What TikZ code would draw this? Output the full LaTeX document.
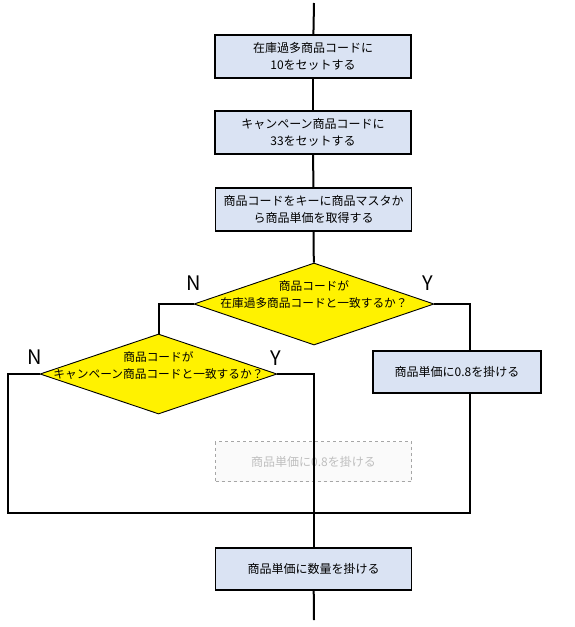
\documentclass[tikz,border=0pt]{standalone}
\usepackage{fontspec}
\setmainfont{Noto Sans CJK JP}
\usetikzlibrary{shapes.geometric}
\definecolor{procfill}{HTML}{DAE3F3}
\definecolor{ghostline}{HTML}{A6A6A6}
\definecolor{ghosttext}{HTML}{BFBFBF}

\begin{document}
\begin{tikzpicture}[x=1pt,y=-1pt,
  proc/.style={rectangle,draw=black,line width=1.3pt,fill=procfill,inner sep=0pt,
    minimum width=196pt,minimum height=43pt,align=center,font=\fontsize{12}{17}\selectfont},
  ghost/.style={proc,draw=ghostline,dashed,line width=1pt,fill=black!2,text=ghosttext,minimum height=40pt},
  decide/.style={diamond,draw=black,line width=0.9pt,fill=yellow,inner sep=0pt},
  dtext/.style={align=center,inner sep=0pt,font=\fontsize{11.7}{17}\selectfont},
  yn/.style={inner sep=0pt,font=\fontsize{20}{20}\selectfont},
  flow/.style={line width=2pt}]

\useasboundingbox (0,0) rectangle (574,627);

\coordinate (start) at (314,3);
\coordinate (stop) at (314,620);

\node[proc] (setover) at (313,56.5) {在庫過多商品コードに\\10をセットする};
\node[proc] (setcamp) at (313,132.5) {キャンペーン商品コードに\\33をセットする};
\node[proc] (getprice) at (313.5,209.5) {商品コードをキーに商品マスタか\\ら商品単価を取得する};

\node[decide,minimum width=240pt,minimum height=82pt] (isover) at (314,304) {};
\node[dtext] (isovert) at (314,295) {商品コードが\\在庫過多商品コードと一致するか？};
\node[yn] (isovern) at (193.5,283.5) {N};
\node[yn] (isovery) at (427.5,283.5) {Y};

\node[proc,minimum width=168pt,minimum height=42pt] (discount) at (457,372) {商品単価に0.8を掛ける};
\coordinate (yestop) at (470,304);
\coordinate (yesbot) at (470,513);

\node[decide,minimum width=237pt,minimum height=80pt] (iscamp) at (158.5,374) {};
\node[dtext] (iscampt) at (158.5,365.5) {商品コードが\\キャンペーン商品コードと一致するか？};
\node[yn] (iscampn) at (35,357.5) {N};
\node[yn] (iscampy) at (275.5,358) {Y};

\node[ghost] (campdisc) at (313.5,461.5) {商品単価に0.8を掛ける};

\node[proc,minimum height=42pt] (mulqty) at (313.5,569) {商品単価に数量を掛ける};

\coordinate (merge) at (314,513);
\coordinate (mergel) at (8,513);

\draw[flow] (start) -- (setover);
\draw[flow] (setover) -- (setcamp);
\draw[flow] (setcamp) -- (getprice);
\draw[flow] (getprice) -- (isover);
\draw[flow] (isover.east) -- (yestop) -- (yestop |- discount.north);
\draw[flow] (isover.west) -| (iscamp.north);
\draw[flow] (yesbot |- discount.south) -- (yesbot) -- (merge);
\draw[flow] (iscamp.west) -| (mergel) -- (merge);
\draw[flow] (iscamp.east) -| (mulqty.north);
\draw[flow] (mulqty) -- (stop);

\end{tikzpicture}
\end{document}
